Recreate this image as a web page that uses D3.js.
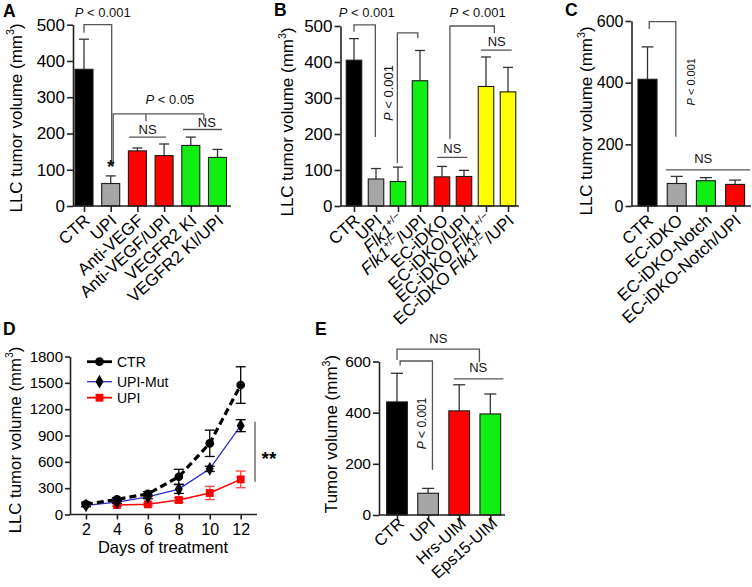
<!DOCTYPE html>
<html><head><meta charset="utf-8">
<script src="https://cdn.jsdelivr.net/npm/d3@7/dist/d3.min.js"></script>
<style>
body{margin:0;background:#fff}
svg{display:block}
</style></head><body>
<svg id="c" width="752" height="587"></svg>
<script>
// ---------- DATA ----------
// Panel A
const aCategories = ["CTR","UPI","Anti-VEGF","Anti-VEGF/UPI","VEGFR2 KI","VEGFR2 KI/UPI"];
const aMeans = [377, 62, 152, 139, 167, 134];
const aErrorTops = [460, 83, 160, 171, 190, 156];
const aTicks = [0,100,200,300,400,500];
// Panel B
const bCategories = ["CTR","UPI","Flk1+/−","Flk1+/−/UPI","EC-iDKO","EC-iDKO/UPI","EC-iDKO Flk1+/−","EC-iDKO Flk1+/−/UPI"];
const bMeans = [405, 75, 68, 348, 81, 82, 332, 317];
const bErrorTops = [465, 104, 108, 432, 110, 99, 414, 385];
const bTicks = [0,100,200,300,400,500];
// Panel C
const cCategories = ["CTR","EC-iDKO","EC-iDKO-Notch","EC-iDKO-Notch/UPI"];
const cMeans = [411, 73, 82, 70];
const cErrorTops = [516, 96, 92, 84];
const cTicks = [0,200,400,600];
// Panel D
const dDays = [2,4,6,8,10,12];
const dCtr = [116, 172, 235, 430, 811, 1475];
const dCtrErr = [25, 20, 25, 85, 150, 208];
const dUpiMut = [105, 142, 200, 290, 520, 1012];
const dUpiMutErr = [15, 15, 20, 50, 30, 68];
const dUpiDays = [4,6,8,10,12];
const dUpi = [108, 116, 165, 245, 400];
const dUpiErr = [15, 15, 25, 75, 95];
const dYTicks = [0,300,600,900,1200,1500,1800];
const dXTicks = [2,4,6,8,10,12];
const dSeriesNames = ["CTR","UPI-Mut","UPI"];
// Panel E
const eCategories = ["CTR","UPI","Hrs-UIM","Eps15-UIM"];
const eMeans = [442, 85, 407, 395];
const eErrorTops = [554, 104, 509, 473];
const eTicks = [0,200,400,600];

// ---------- STYLE ----------
const BLACK="#000000", GREY="#a6a6a6", RED="#ff0000", GREEN="#11ee11", YELLOW="#ffff00";
const aColors=[BLACK,GREY,RED,RED,GREEN,GREEN];
const bColors=[BLACK,GREY,GREEN,GREEN,RED,RED,YELLOW,YELLOW];
const cColors=[BLACK,GREY,GREEN,RED];
const eColors=[BLACK,GREY,RED,GREEN];
const FONT='"Liberation Sans", Arial, Helvetica, sans-serif';
const AXIS="#222", ANN="#555";

const svg=d3.select("#c");
svg.append("rect").attr("width",752).attr("height",587).attr("fill","#fff");

function richText(sel, str, size){
  const parts=str.split(/(Flk1|\+\/−|^P(?= ))/).filter(s=>s.length);
  let raised=false;
  parts.forEach(p=>{
    const t=sel.append("tspan").text(p);
    if(p==="Flk1"||p==="P") t.attr("font-style","italic");
    if(p==="+/−"){ t.attr("font-size",size*0.62).attr("dy",-size*0.42); raised=true; }
    else if(raised){ t.attr("dy",size*0.42); raised=false; }
  });
}
function yLabel(g, txt, bx, cy, size){
  const t=g.append("text").attr("transform",`translate(${bx},${cy}) rotate(-90)`)
    .attr("text-anchor","middle").attr("font-family",FONT).attr("font-size",size).attr("fill","#000");
  t.append("tspan").text(txt+" (mm");
  t.append("tspan").text("3").attr("font-size",size*0.62).attr("dy",-size*0.42);
  t.append("tspan").text(")").attr("dy",size*0.42);
}
function panelLetter(txt,x,y){
  svg.append("text").attr("x",x).attr("y",y).attr("font-family",FONT).attr("font-weight","bold")
    .attr("font-size",17.5).attr("fill","#000").text(txt);
}
function styleAxis(ag, fs){
  ag.attr("font-family",null).attr("font-size",null);
  ag.select(".domain").attr("stroke",AXIS).attr("stroke-width",1.6);
  ag.selectAll(".tick line").attr("stroke",AXIS).attr("stroke-width",1.6);
  ag.selectAll(".tick text").attr("font-family",FONT).attr("font-size",fs).attr("fill","#000");
}

function barPanel(o){
  const g=svg.append("g");
  const x=d3.scalePoint().domain(o.cats).range(o.xr);
  const step=(o.xr[1]-o.xr[0])/(o.cats.length-1);
  const xi=i=>o.xr[0]+i*step;
  const y=d3.scaleLinear().domain([0,o.ymax]).range(o.yr);
  const rows=o.cats.map((c,i)=>({c,m:o.means[i],t:o.tops[i],col:o.colors[i]}));
  // error bars
  const eb=g.selectAll("g.eb").data(rows).join("g");
  eb.append("line").attr("x1",d=>x(d.c)).attr("x2",d=>x(d.c)).attr("y1",d=>y(d.m)).attr("y2",d=>y(d.t))
    .attr("stroke","#333").attr("stroke-width",1.3);
  eb.append("line").attr("x1",d=>x(d.c)-o.cap).attr("x2",d=>x(d.c)+o.cap).attr("y1",d=>y(d.t)).attr("y2",d=>y(d.t))
    .attr("stroke","#333").attr("stroke-width",1.3);
  // bars
  g.selectAll("rect.bar").data(rows).join("rect").attr("class","bar")
    .attr("x",d=>x(d.c)-o.bw/2).attr("y",d=>y(d.m)).attr("width",o.bw).attr("height",d=>y(0)-y(d.m))
    .attr("fill",d=>d.col).attr("stroke","#1a1a1a").attr("stroke-width",1.1);
  // y axis
  const ag=g.append("g").attr("transform",`translate(${o.ax},0)`)
    .call(d3.axisLeft(y).tickValues(o.ticks).tickSize(6).tickPadding(2).tickSizeOuter(0).tickFormat(d3.format("d")));
  styleAxis(ag,o.tickFs);
  // x baseline + ticks
  g.append("line").attr("x1",o.ax).attr("x2",o.xEnd).attr("y1",y(0)).attr("y2",y(0)).attr("stroke",AXIS).attr("stroke-width",1.6);
  const xg=g.append("g").attr("transform",`translate(0,${y(0)})`)
    .call(d3.axisBottom(x).tickSize(6).tickSizeOuter(0).tickFormat(""));
  xg.select(".domain").remove();
  xg.selectAll(".tick line").attr("stroke",AXIS).attr("stroke-width",1.6);
  // category labels
  rows.forEach(d=>{
    const t=g.append("text").attr("transform",`translate(${x(d.c)+o.lx},${y(0)+o.ly}) rotate(${-o.ang})`)
      .attr("text-anchor","end").attr("font-family",FONT).attr("font-size",o.labFs).attr("fill","#000");
    richText(t,d.c,o.labFs);
  });
  // annotations
  (o.ann||[]).forEach(a=>{
    if(a.pts){
      g.append("path").attr("d",d3.line().x(p=>xi(p[0])+(p[2]||0)).y(p=>y(p[1]))(a.pts))
        .attr("fill","none").attr("stroke",ANN).attr("stroke-width",1.3);
    } else {
      const t=g.append("text").attr("font-family",FONT).attr("font-size",a.fs).attr("fill","#111")
        .attr("text-anchor","middle");
      if(a.bold) t.attr("font-weight","bold");
      if(a.rot) t.attr("transform",`translate(${xi(a.i)},${y(a.v)}) rotate(-90)`).attr("dominant-baseline","middle");
      else t.attr("x",xi(a.i)).attr("y",y(a.v));
      richText(t,a.txt,a.fs);
    }
  });
  yLabel(g,o.ylab,o.ylx,o.yly,17);
  return {x,y,g};
}

const LAB={labFs:17,ang:42,lx:7,ly:16};

// ---------- PANEL A ----------
panelLetter("A",3,17);
barPanel(Object.assign({cats:aCategories,means:aMeans,tops:aErrorTops,colors:aColors,ticks:aTicks,
  xr:[84,217.5],bw:18,cap:5,ax:73,xEnd:231,yr:[206,24.7],ymax:500,tickFs:17,
  ylab:"LLC tumor volume",ylx:21.5,yly:118,
  ann:[
    {pts:[[0,478],[0,500],[1,500,1],[1,113,1]]},
    {txt:"P < 0.001",i:0.7,v:522,fs:13},
    {pts:[[1,113,2.5],[1,254,2.5],[4.49,254]]},
    {pts:[[2.32,254],[2.32,234]]},
    {pts:[[4.49,254],[4.49,236]]},
    {txt:"P < 0.05",i:3.22,v:280,fs:13},
    {pts:[[1.69,190],[3.07,190]]},
    {txt:"NS",i:2.38,v:199,fs:13},
    {pts:[[3.71,211],[5.17,211]]},
    {txt:"NS",i:4.6,v:219,fs:13},
    {txt:"*",i:1,v:90,fs:19,bold:true}
  ]},LAB));

// ---------- PANEL B ----------
panelLetter("B",274,16);
barPanel(Object.assign({cats:bCategories,means:bMeans,tops:bErrorTops,colors:bColors,ticks:bTicks,
  xr:[354,508],bw:15.5,cap:5,ax:340.5,xEnd:519,yr:[206,26],ymax:500,tickFs:17,
  ylab:"LLC tumor volume",ylx:293,yly:122,
  ann:[
    {pts:[[0,484],[0,503],[0.97,503],[0.97,192]]},
    {txt:"P < 0.001",i:0.58,v:525,fs:13},
    {pts:[[1.97,119],[1.97,481],[2.9,481],[2.9,466]]},
    {txt:"P < 0.001",i:1.64,v:314,fs:13,rot:true},
    {pts:[[4.36,186],[4.36,500],[6.38,500],[6.38,480]]},
    {txt:"P < 0.001",i:5.62,v:525,fs:13},
    {pts:[[3.79,135],[5.15,135]]},
    {txt:"NS",i:4.47,v:147,fs:13},
    {pts:[[5.77,433],[7.17,433]]},
    {txt:"NS",i:6.49,v:444,fs:13}
  ]},LAB));

// ---------- PANEL C ----------
panelLetter("C",565,16);
barPanel(Object.assign({cats:cCategories,means:cMeans,tops:cErrorTops,colors:cColors,ticks:cTicks,
  xr:[647.5,735.1],bw:19,cap:6,ax:631.5,xEnd:751,yr:[206,21],ymax:600,tickFs:16,
  ylab:"LLC tumor volume",ylx:592,yly:121,
  ann:[
    {pts:[[0.06,574],[0.06,598],[0.97,598],[0.97,225]]},
    {txt:"P < 0.001",i:1.51,v:403,fs:11,rot:true},
    {pts:[[0.63,117],[3.51,117]]},
    {txt:"NS",i:1.91,v:140,fs:13}
  ]},LAB));

// ---------- PANEL E ----------
panelLetter("E",315,335);
barPanel(Object.assign({},LAB,{cats:eCategories,means:eMeans,tops:eErrorTops,colors:eColors,ticks:eTicks,
  xr:[397,490.3],bw:20.7,cap:6,ax:379,xEnd:505,yr:[515,361.5],ymax:600,tickFs:15.5,
  labFs:16.3,lx:8,ly:10,
  ylab:"Tumor volume",ylx:337,yly:434,
  ann:[
    {pts:[[0,606],[0,648],[2.65,648],[2.65,597]]},
    {txt:"NS",i:1.33,v:672,fs:13},
    {pts:[[0.1,584],[0.1,602],[1.14,602],[1.14,176]]},
    {txt:"P < 0.001",i:0.85,v:358,fs:12,rot:true},
    {pts:[[1.83,532],[3.42,532]]},
    {txt:"NS",i:2.61,v:559,fs:13}
  ]}));

// ---------- PANEL D ----------
panelLetter("D",3,335);
(function(){
  const g=svg.append("g");
  const x=d3.scaleLinear().domain([2,12]).range([86,240.7]);
  const y=d3.scaleLinear().domain([0,1800]).range([514.5,356.5]);
  const ag=g.append("g").attr("transform","translate(70,0)")
    .call(d3.axisLeft(y).tickValues(dYTicks).tickSize(5).tickPadding(2).tickSizeOuter(0).tickFormat(d3.format("d")));
  styleAxis(ag,15);
  g.append("line").attr("x1",70).attr("x2",257).attr("y1",y(0)).attr("y2",y(0)).attr("stroke",AXIS).attr("stroke-width",1.6);
  const xg=g.append("g").attr("transform",`translate(0,${y(0)})`)
    .call(d3.axisBottom(x).tickValues(dXTicks).tickSize(5).tickPadding(4).tickFormat(d3.format("d")));
  xg.select(".domain").remove();
  styleAxis(xg,16);
  g.append("text").attr("x",163).attr("y",553).attr("text-anchor","middle").attr("font-family",FONT)
    .attr("font-size",16.5).attr("fill","#000").text("Days of treatment");
  yLabel(g,"LLC tumor volume",20.5,440,16.8);

  const series=[
    {days:dUpiDays,v:dUpi,e:dUpiErr,line:RED,lw:1.5,dash:null,sym:d3.symbolSquare,size:62,fill:RED,ebc:"#ff4444"},
    {days:dDays,v:dUpiMut,e:dUpiMutErr,line:"#2a2ad0",lw:1.3,dash:null,sym:d3.symbolDiamond,size:55,fill:"#000",ebc:"#000"},
    {days:dDays,v:dCtr,e:dCtrErr,line:"#000",lw:3.2,dash:"7,4",sym:d3.symbolCircle,size:60,fill:"#000",ebc:"#000"}
  ];
  series.forEach(s=>{
    const pts=s.days.map((d,i)=>({d,v:s.v[i],e:s.e[i]}));
    g.append("path").attr("d",d3.line().x(p=>x(p.d)).y(p=>y(p.v))(pts)).attr("fill","none")
      .attr("stroke",s.line).attr("stroke-width",s.lw).attr("stroke-dasharray",s.dash);
    const eg=g.selectAll(null).data(pts).join("g");
    eg.append("line").attr("x1",p=>x(p.d)).attr("x2",p=>x(p.d)).attr("y1",p=>y(p.v-p.e)).attr("y2",p=>y(p.v+p.e))
      .attr("stroke",s.ebc).attr("stroke-width",1.3);
    [1,-1].forEach(sg=>eg.append("line").attr("x1",p=>x(p.d)-5).attr("x2",p=>x(p.d)+5)
      .attr("y1",p=>y(p.v+sg*p.e)).attr("y2",p=>y(p.v+sg*p.e)).attr("stroke",s.ebc).attr("stroke-width",1.3));
    s.pts=pts;
  });
  series.forEach(s=>{
    g.selectAll(null).data(s.pts).join("path").attr("transform",p=>`translate(${x(p.d)},${y(p.v)})`)
      .attr("d",d3.symbol().type(s.sym).size(s.size)).attr("fill",s.fill);
  });
  // significance
  g.append("line").attr("x1",255).attr("x2",255).attr("y1",y(1057)).attr("y2",y(372)).attr("stroke",ANN).attr("stroke-width",1.3);
  g.append("text").attr("x",269).attr("y",y(560)).attr("text-anchor","middle").attr("font-family",FONT)
    .attr("font-weight","bold").attr("font-size",19).attr("fill","#000").text("**");
  // legend
  const leg=[series[2],series[1],series[0]];
  const ly=[361.7,381.7,397.7];
  leg.forEach((s,i)=>{
    g.append("line").attr("x1",87).attr("x2",112).attr("y1",ly[i]).attr("y2",ly[i])
      .attr("stroke",s.line).attr("stroke-width",i===0?2.8:(i===2?1.8:1.3));
    g.append("path").attr("transform",`translate(99.5,${ly[i]})`).attr("d",d3.symbol().type(s.sym).size(s.size)).attr("fill",s.fill);
    g.append("text").attr("x",117).attr("y",ly[i]+5).attr("font-family",FONT).attr("font-size",14).attr("fill","#000").text(dSeriesNames[i]);
  });
})();
</script>
</body></html>
